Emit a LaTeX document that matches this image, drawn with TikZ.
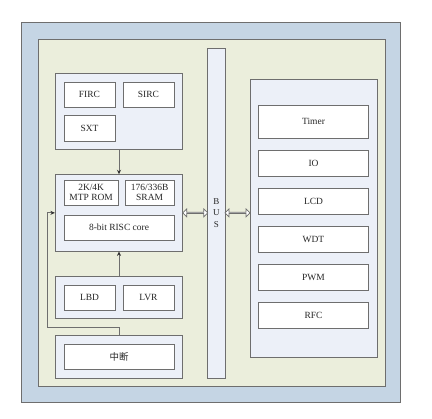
\documentclass[tikz,border=0pt]{standalone}
\usepackage{fontspec}
\setmainfont{Liberation Serif}
\newfontfamily\cjk{Noto Sans CJK SC}
\usepackage{xcolor}
\usepackage{tikz}
\usetikzlibrary{shapes.arrows, arrows.meta, positioning, calc}
\definecolor{linegray}{HTML}{6E6E6E}
\definecolor{chipblue}{HTML}{C5D5E4}
\definecolor{coregreen}{HTML}{EBEEDC}
\definecolor{groupblue}{HTML}{ECF0F8}
\tikzstyle{frame} = [draw=linegray, line width=1bp, inner sep=0pt]
\tikzstyle{group} = [draw=linegray, fill=groupblue, line width=0.8bp, minimum width=127.4bp, inner sep=0pt]
\tikzstyle{block} = [draw=linegray, fill=white, line width=0.8bp, inner sep=0pt, align=center, text=black!85, font=\fontsize{9.5}{10.5}\selectfont]
\tikzstyle{arrow} = [draw=linegray, line width=0.8bp, -{Stealth[length=4.5bp, width=4bp, color=black!80]}]
\tikzstyle{busarrow} = [double arrow, draw=linegray, fill=white, line width=0.7bp, inner sep=0pt, minimum width=8bp, double arrow head extend=1.8bp]

\begin{document}
\begin{tikzpicture}[x=1bp, y=-1bp]
    \useasboundingbox (0,0) rectangle (432,419);

    % Chip frame
    \node[frame, fill=chipblue, minimum width=379bp, minimum height=380bp] (chip) at (211.2, 212.7) {};
    \node[frame, fill=coregreen, minimum width=346.7bp, minimum height=346.5bp] (core) at (212.35, 212.75) {};

    % Clock sources
    \node[group, minimum height=76bp] (clk) at (119, 111.3) {};
    \node[block, minimum width=51bp, minimum height=25.7bp] (firc) at (89.5, 94.85) {FIRC};
    \node[block, minimum width=51bp, minimum height=25.7bp] (sirc) at (148.5, 94.85) {SIRC};
    \node[block, minimum width=51bp, minimum height=25.7bp] (sxt) at (89.5, 128.5) {SXT};

    % CPU
    \node[group, minimum height=76.3bp] (cpu) at (119, 212.85) {};
    \node[block, minimum width=54.3bp, minimum height=25bp] (rom) at (91.15, 192.5) {2K/4K\\MTP ROM};
    \node[block, minimum width=48.7bp, minimum height=25bp] (sram) at (149.65, 192.5) {176/336B\\SRAM};
    \node[block, minimum width=110bp, minimum height=25.3bp] (risc) at (119, 227.65) {8-bit RISC core};

    % Power monitor
    \node[group, minimum height=42bp] (pwr) at (119, 297.7) {};
    \node[block, minimum width=51bp, minimum height=25.3bp] (lbd) at (89.5, 297.65) {LBD};
    \node[block, minimum width=51bp, minimum height=25.3bp] (lvr) at (148.5, 297.65) {LVR};

    % Interrupt
    \node[group, minimum height=43bp] (intr) at (119, 356.8) {};
    \node[block, minimum width=110bp, minimum height=25.7bp] (irq) at (119, 356.85) {\cjk 中断};

    % Bus
    \node[block, fill=groupblue, minimum width=17.3bp, minimum height=329.7bp] (bus) at (216.35, 213.15) {};
    \node[font=\fontsize{9}{11.5}\selectfont, align=center, text=black!85, inner sep=0pt] (buslabel) at (216.35, 212.7) {B\\U\\S};

    % Peripherals
    \node[group, minimum height=278.3bp] (peri) at (313.65, 218.15) {};
    \node[block, minimum width=110.4bp, minimum height=33bp] (timer) at (313.5, 121.5) {Timer};
    \node[block, minimum width=110.4bp, minimum height=25.7bp] (io) at (313.5, 163.15) {IO};
    \node[block, minimum width=110.4bp, minimum height=25.7bp] (lcd) at (313.5, 201.15) {LCD};
    \node[block, minimum width=110.4bp, minimum height=26bp] (wdt) at (313.5, 239.3) {WDT};
    \node[block, minimum width=110.4bp, minimum height=26bp] (pwm) at (313.5, 277.3) {PWM};
    \node[block, minimum width=110.4bp, minimum height=26bp] (rfc) at (313.5, 315.3) {RFC};

    % Bus links
    \node[busarrow, minimum height=25bp] (cpulink) at ($(cpu.east)!0.5!(cpu.east -| bus.west)$) {};
    \node[busarrow, minimum height=25bp] (perilink) at ($(bus.east |- cpu.east)!0.5!(peri.west |- cpu.east)$) {};

    % Arrows
    \coordinate (turn) at (47.3, 327);
    \draw[arrow] (clk.south) -- (cpu.north);
    \draw[arrow] (pwr.north) -- (cpu.south);
    \draw[arrow] (intr.north) |- (turn) |- (cpu.west);
\end{tikzpicture}
\end{document}
